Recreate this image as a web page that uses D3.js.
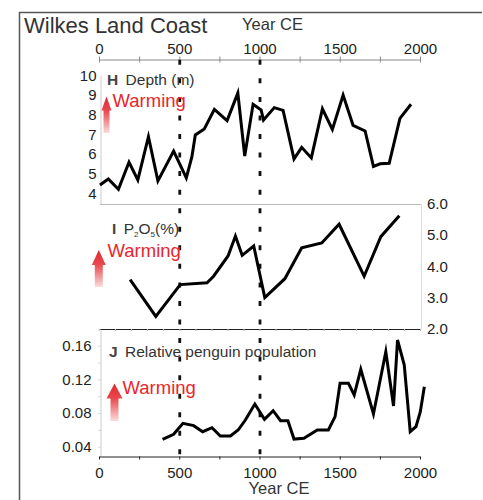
<!DOCTYPE html>
<html>
<head>
<meta charset="utf-8">
<script src="https://cdn.jsdelivr.net/npm/d3@7/dist/d3.min.js"></script>
<style>
  html, body { margin: 0; padding: 0; background: #fff; }
  svg { display: block; }
  text { font-family: "Liberation Sans", Arial, Helvetica, sans-serif; }
</style>
</head>
<body>
<svg id="chart" width="483" height="500"></svg>
<script>
// Wilkes Land Coast records, years CE
const yearTicks = [0, 500, 1000, 1500, 2000];
const eventYears = [500, 1000];

// H: water depth (m)
const depthYears = [6, 58, 121, 187, 242, 308, 367, 465, 544, 579, 600, 656, 719, 798, 865, 908, 960, 1010, 1025, 1092, 1147, 1215, 1263, 1323, 1392, 1454, 1521, 1583, 1658, 1710, 1752, 1808, 1875, 1944];
const depthValues = [4.42, 4.73, 4.2, 5.58, 4.68, 6.88, 4.63, 6.15, 4.78, 5.86, 6.97, 7.27, 8.27, 7.7, 9.1, 5.9, 8.53, 8.24, 7.73, 8.36, 8.22, 5.75, 6.34, 5.8, 8.3, 7.25, 9.0, 7.46, 7.17, 5.37, 5.5, 5.53, 7.81, 8.53];
const depthTicks = [4, 5, 6, 7, 8, 9, 10];

// I: P2O5 (%)
const p2o5Years = [194, 354, 506, 673, 714, 804, 850, 892, 964, 1033, 1158, 1263, 1388, 1496, 1652, 1756, 1871];
const p2o5Values = [3.57, 2.39, 3.41, 3.47, 3.68, 4.33, 4.97, 4.35, 4.65, 2.99, 3.6, 4.59, 4.75, 5.35, 3.68, 4.95, 5.62];
const p2o5Ticks = [2.0, 3.0, 4.0, 5.0, 6.0];

// J: relative penguin population
const penguinYears = [396, 465, 523, 590, 646, 704, 756, 819, 867, 912, 971, 1031, 1085, 1131, 1177, 1215, 1277, 1360, 1429, 1471, 1502, 1554, 1590, 1631, 1710, 1787, 1835, 1860, 1902, 1939, 1975, 2002, 2027];
const penguinValues = [0.0488, 0.0547, 0.0678, 0.065, 0.0578, 0.0626, 0.0527, 0.0527, 0.0598, 0.0717, 0.0907, 0.0725, 0.0828, 0.0709, 0.0709, 0.0491, 0.050, 0.0598, 0.0598, 0.0757, 0.1153, 0.1153, 0.1014, 0.132, 0.0789, 0.1529, 0.0884, 0.1668, 0.137, 0.0578, 0.0638, 0.0816, 0.1113];
const penguinTicks = [0.04, 0.08, 0.12, 0.16];

const svg = d3.select("#chart");
const FONT_TICK = 15;

const x = d3.scaleLinear().domain([0, 2000]).range([99, 420]);
const yH = d3.scaleLinear().domain([4, 10]).range([193.3, 75.4]);
const yI = d3.scaleLinear().domain([2, 6]).range([328.5, 204]);
const yJ = d3.scaleLinear().domain([0.04, 0.16]).range([446.7, 345.7]);

// Outer frame (left and top edges)
svg.append("path")
  .attr("d", "M19.5,500 L19.5,12.5 L482,12.5")
  .attr("fill", "none").attr("stroke", "#555").attr("stroke-width", 1.5);

svg.append("text").attr("x", 24).attr("y", 33)
  .attr("font-size", 22).attr("fill", "#333").text("Wilkes Land Coast");

// Top year axis
const topAxis = svg.append("g").attr("transform", "translate(0,59.5)");
topAxis.call(d3.axisTop(x).tickValues(d3.range(0, 2001, 250)).tickSize(3).tickSizeOuter(0).tickFormat(""));
topAxis.selectAll("path,line").attr("stroke", "#888");
topAxis.selectAll(".tick line").attr("y2", 3).attr("y1", -3);
topAxis.selectAll(".tick")
  .filter(d => yearTicks.includes(d))
  .append("text")
  .attr("y", -5.5).attr("fill", "#222").attr("font-size", FONT_TICK)
  .attr("text-anchor", "middle").text(d => d);
svg.append("text").attr("x", 272.5).attr("y", 30)
  .attr("font-size", 16.5).attr("fill", "#333").attr("text-anchor", "middle").text("Year CE");

// Dashed event lines
svg.selectAll("line.event").data(eventYears).join("line")
  .attr("class", "event")
  .attr("x1", d => x(d) + 0.5).attr("x2", d => x(d) + 0.5)
  .attr("y1", 59.8).attr("y2", 455)
  .attr("stroke", "#111").attr("stroke-width", 2.8)
  .attr("stroke-dasharray", "5 13.55");

// Panel H axis (left)
const hAxisScale = yH.copy().domain([yH.invert(204), yH.invert(75)]).range([204, 75]);
const hAxis = svg.append("g").attr("transform", "translate(100.5,0)")
  .call(d3.axisLeft(hAxisScale).tickValues(depthTicks).tickSize(0).tickSizeOuter(0).tickPadding(4).tickFormat(d3.format("d")));
hAxis.select(".domain").attr("stroke", "#ccc");
hAxis.selectAll("text").attr("font-size", FONT_TICK).attr("fill", "#222")
  .attr("font-family", "Liberation Sans, Arial, sans-serif");

// Panel I frame: top rule and bottom axis
svg.append("line").attr("x1", 100).attr("x2", 421).attr("y1", 204.5).attr("y2", 204.5)
  .attr("stroke", "#bbb").attr("stroke-width", 1);
const iBottom = svg.append("g").attr("transform", "translate(0,329)");
iBottom.call(d3.axisBottom(x).tickValues(d3.range(0, 2001, 100)).tickSize(2).tickSizeOuter(0).tickFormat(""));
iBottom.select(".domain").attr("stroke", "#222").attr("stroke-width", 1.2);
iBottom.selectAll(".tick line").attr("stroke", "#bbb");

const iAxisScale = yI.copy().domain([yI.invert(329), yI.invert(204)]).range([329, 204]);
const iAxis = svg.append("g").attr("transform", "translate(421,0)")
  .call(d3.axisRight(iAxisScale).tickValues(p2o5Ticks).tickSize(0).tickSizeOuter(0).tickPadding(6).tickFormat(d3.format(".1f")));
iAxis.select(".domain").attr("stroke", "#ddd");
iAxis.selectAll("text").attr("font-size", FONT_TICK).attr("fill", "#222")
  .attr("font-family", "Liberation Sans, Arial, sans-serif");

// Panel J axes
const jAxisScale = yJ.copy().domain([yJ.invert(456), yJ.invert(330)]).range([456, 330]);
const jAxis = svg.append("g").attr("transform", "translate(100.5,0)")
  .call(d3.axisLeft(jAxisScale).tickValues(d3.range(0.02, 0.1801, 0.02)).tickSize(2).tickSizeOuter(0).tickPadding(7)
    .tickFormat(d => penguinTicks.some(t => Math.abs(t - d) < 1e-6) ? d3.format(".2f")(d) : ""));
jAxis.selectAll("path,line").attr("stroke", "#ccc");
jAxis.selectAll("text").attr("font-size", FONT_TICK).attr("fill", "#222")
  .attr("font-family", "Liberation Sans, Arial, sans-serif");

const bottomAxis = svg.append("g").attr("transform", "translate(0,456.5)");
bottomAxis.call(d3.axisBottom(x).tickValues(d3.range(0, 2001, 250)).tickSize(3).tickSizeOuter(0).tickFormat(""));
bottomAxis.selectAll("path,line").attr("stroke", "#222");
bottomAxis.selectAll(".tick")
  .filter(d => yearTicks.includes(d))
  .append("text")
  .attr("y", 21).attr("fill", "#222").attr("font-size", FONT_TICK)
  .attr("text-anchor", "middle").text(d => d);
svg.append("text").attr("x", 279).attr("y", 494)
  .attr("font-size", 16.5).attr("fill", "#333").attr("text-anchor", "middle").text("Year CE");

// Series lines
function drawSeries(years, values, yScale) {
  const pts = years.map((yr, i) => [x(yr), yScale(values[i])]);
  svg.append("path")
    .attr("d", d3.line()(pts))
    .attr("fill", "none").attr("stroke", "#000")
    .attr("stroke-width", 3).attr("stroke-linejoin", "miter").attr("stroke-miterlimit", 6);
}
drawSeries(depthYears, depthValues, yH);
drawSeries(p2o5Years, p2o5Values, yI);
drawSeries(penguinYears, penguinValues, yJ);

// Panel titles
function panelTitle(letter, xPos, yPos, build) {
  const t = svg.append("text").attr("x", xPos).attr("y", yPos)
    .attr("font-size", 15.5).attr("fill", "#333");
  t.append("tspan").attr("font-weight", "bold").attr("fill", "#444").text(letter);
  t.append("tspan").text("\u2009");
  build(t);
}
panelTitle("H", 107, 84.5, t => t.append("tspan").text(" Depth (m)"));
panelTitle("I", 112, 234, t => {
  t.append("tspan").text(" P");
  t.append("tspan").attr("font-size", 8).attr("dy", 3).text("2");
  t.append("tspan").attr("dy", -3).text("O");
  t.append("tspan").attr("font-size", 8).attr("dy", 3).text("5");
  t.append("tspan").attr("dy", -3).text("(%)");
});
panelTitle("J", 109, 357, t => t.append("tspan").text(" Relative penguin population"));

// Warming arrows
const defs = svg.append("defs");
const grad = defs.append("linearGradient").attr("id", "warmGrad")
  .attr("x1", 0).attr("y1", 0).attr("x2", 0).attr("y2", 1);
grad.append("stop").attr("offset", "0%").attr("stop-color", "#e3262c");
grad.append("stop").attr("offset", "40%").attr("stop-color", "#e84a4f");
grad.append("stop").attr("offset", "100%").attr("stop-color", "#fadcdc");

function warming(cx, tip, headH, hw, sw, bottom, tx, ty) {
  const p = d3.path();
  p.moveTo(cx, tip);
  p.lineTo(cx + hw / 2, tip + headH);
  p.lineTo(cx + sw / 2, tip + headH);
  p.lineTo(cx + sw / 2, bottom);
  p.lineTo(cx - sw / 2, bottom);
  p.lineTo(cx - sw / 2, tip + headH);
  p.lineTo(cx - hw / 2, tip + headH);
  p.closePath();
  svg.append("path").attr("d", p.toString()).attr("fill", "url(#warmGrad)");
  svg.append("text").attr("x", tx).attr("y", ty)
    .attr("font-size", 18.5).attr("fill", "#e8262b").text("Warming");
}
warming(106.5, 96.5, 14, 10, 6, 133, 112.5, 106.5);
warming(98.8, 250, 15, 14, 8, 287, 107.5, 257);
warming(114.5, 383.5, 15, 16, 8, 421, 122.5, 394);
</script>
</body>
</html>
